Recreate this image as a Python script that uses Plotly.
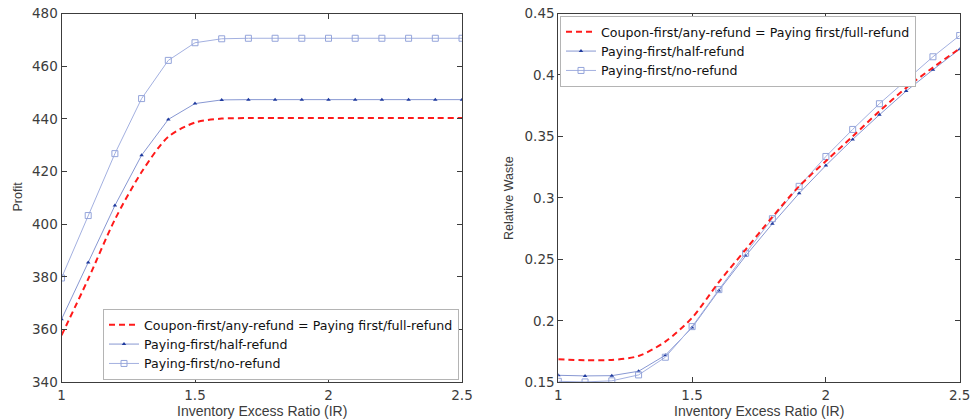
import plotly.graph_objects as go

# Inventory excess ratio (IR) grid shared by both panels
ir = [1.0, 1.1, 1.2, 1.3, 1.4, 1.5, 1.6, 1.7, 1.8, 1.9, 2.0, 2.1, 2.2, 2.3, 2.4, 2.5]

# Profit
profit_coupon = [357.8, 379.2, 401.8, 419.8, 433.2, 438.6, 440.1, 440.3,
                 440.3, 440.3, 440.3, 440.3, 440.3, 440.3, 440.3, 440.3]
profit_half = [363.9, 385.5, 407.1, 426.2, 439.8, 445.8, 447.2, 447.3,
               447.3, 447.3, 447.3, 447.3, 447.3, 447.3, 447.3, 447.3]
profit_none = [379.6, 403.3, 426.8, 447.7, 462.2, 468.9, 470.4, 470.6,
               470.6, 470.6, 470.6, 470.6, 470.6, 470.6, 470.6, 470.6]

# Relative waste
waste_coupon = [0.1687, 0.1680, 0.1682, 0.1714, 0.1831, 0.2025, 0.2315, 0.2580,
                0.2845, 0.3095, 0.3300, 0.3500, 0.3705, 0.3895, 0.4060, 0.4215]
waste_half = [0.1557, 0.1552, 0.1554, 0.1590, 0.1720, 0.1945, 0.2246, 0.2528,
              0.2790, 0.3037, 0.3264, 0.3476, 0.3676, 0.3869, 0.4042, 0.4210]
waste_none = [0.1508, 0.1503, 0.1512, 0.1560, 0.1704, 0.1953, 0.2254, 0.2550,
              0.2831, 0.3094, 0.3337, 0.3557, 0.3766, 0.3961, 0.4148, 0.4321]

names = ["Coupon-first/any-refund = Paying first/full-refund",
         "Paying-first/half-refund",
         "Paying-first/no-refund"]

W, H = 971, 420
FONT = "Liberation Sans, Arial, Helvetica, sans-serif"
WIDE = "DejaVu Sans, Verdana, sans-serif"
AXIS = "#3c3c3c"
RED = "#ff1a1a"
HALF_LINE = "#8797d2"
HALF_MARK = "#1f3a9e"
NONE_LINE = "#a3b0e0"
NONE_MARK = "#94a4da"

fig = go.Figure()


def add_panel(xa, ya, legend, coupon, half, none):
    fig.add_trace(go.Scatter(
        x=ir, y=half, name=names[1], xaxis=xa, yaxis=ya, legend=legend,
        legendrank=2, mode="lines+markers",
        line=dict(color=HALF_LINE, width=1),
        marker=dict(symbol="triangle-up", size=4, color=HALF_MARK)))
    fig.add_trace(go.Scatter(
        x=ir, y=none, name=names[2], xaxis=xa, yaxis=ya, legend=legend,
        legendrank=3, mode="lines+markers",
        line=dict(color=NONE_LINE, width=1),
        marker=dict(symbol="square-open", size=6, color=NONE_MARK,
                    line=dict(width=1))))
    fig.add_trace(go.Scatter(
        x=ir, y=coupon, name=names[0], xaxis=xa, yaxis=ya, legend=legend,
        legendrank=1, mode="lines",
        line=dict(color=RED, width=2, dash="6px,4px", shape="spline",
                  smoothing=0.8)))


add_panel("x", "y", "legend", profit_coupon, profit_half, profit_none)
add_panel("x2", "y2", "legend2", waste_coupon, waste_half, waste_none)

y_dom = [(H - 382.3) / H, (H - 13.5) / H]
axis_common = dict(
    showline=True, linecolor=AXIS, linewidth=1, mirror="ticks",
    ticks="inside", ticklen=5, tickcolor=AXIS, tickwidth=1,
    showgrid=False, zeroline=False, automargin=False,
    tickfont=dict(family=WIDE, size=13.5, color=AXIS),
)
legend_common = dict(
    xanchor="left", bgcolor="white", bordercolor="#b4b4b4", borderwidth=1,
    font=dict(family=WIDE, size=12.6, color="#111111"),
    itemwidth=30, tracegroupgap=0,
)

fig.update_layout(
    width=W, height=H,
    margin=dict(l=0, r=0, t=0, b=0),
    paper_bgcolor="white", plot_bgcolor="white",
    font=dict(family=FONT, color="#111111"),
    xaxis=dict(domain=[61.5 / W, 462 / W], range=[1, 2.5],
               tickvals=[1, 1.5, 2, 2.5], ticktext=["1", "1.5", "2", "2.5"],
               anchor="y", **axis_common),
    yaxis=dict(domain=y_dom, range=[340, 480], dtick=20, anchor="x",
               **axis_common),
    xaxis2=dict(domain=[558.3 / W, 959.7 / W], range=[1, 2.5],
                tickvals=[1, 1.5, 2, 2.5], ticktext=["1", "1.5", "2", "2.5"],
                anchor="y2", **axis_common),
    yaxis2=dict(domain=y_dom, range=[0.15, 0.45], dtick=0.05, anchor="x2",
                **axis_common),
    legend=dict(x=103 / W, y=(H - 380) / H, yanchor="bottom", **legend_common),
    legend2=dict(x=560 / W, y=(H - 16) / H, yanchor="top", **legend_common),
    showlegend=True,
)

title_font = dict(family=FONT, size=14, color=AXIS)
ylab_font = dict(family=FONT, size=12.5, color=AXIS)
fig.add_annotation(text="Inventory Excess Ratio (IR)", xref="paper", yref="paper",
                   x=(61.5 + 462) / 2 / W, y=(H - 411) / H, showarrow=False,
                   xanchor="center", yanchor="middle", font=title_font)
fig.add_annotation(text="Inventory Excess Ratio (IR)", xref="paper", yref="paper",
                   x=(558.3 + 959.7) / 2 / W, y=(H - 411) / H, showarrow=False,
                   xanchor="center", yanchor="middle", font=title_font)
fig.add_annotation(text="Profit", xref="paper", yref="paper",
                   x=17.5 / W, y=(H - 197) / H, showarrow=False, textangle=-90,
                   xanchor="center", yanchor="middle", font=ylab_font)
fig.add_annotation(text="Relative Waste", xref="paper", yref="paper",
                   x=509 / W, y=(H - 198) / H, showarrow=False, textangle=-90,
                   xanchor="center", yanchor="middle", font=ylab_font)

fig.write_html("out.html")
